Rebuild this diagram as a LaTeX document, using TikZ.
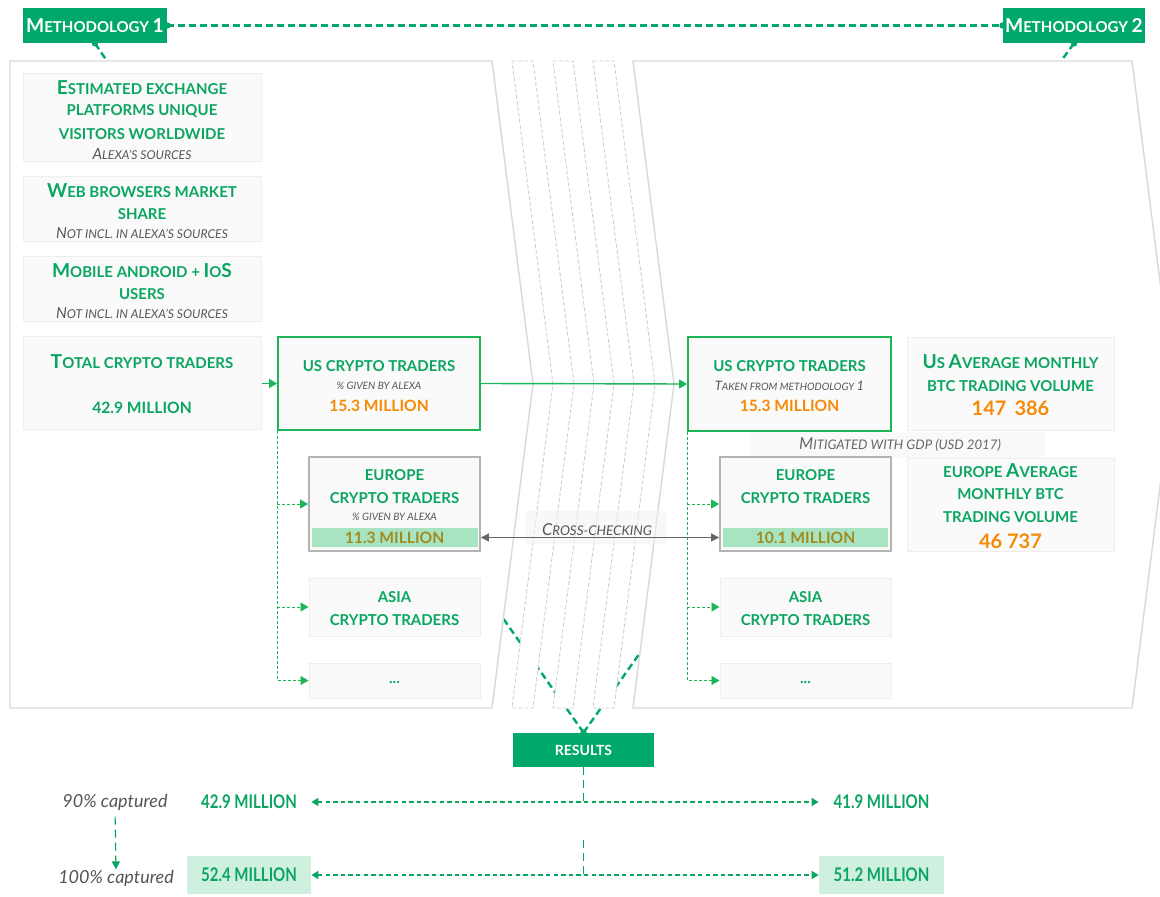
\documentclass[tikz,border=0pt]{standalone}
\usepackage{fontspec}
\setmainfont{Lato}
\usetikzlibrary{arrows.meta,fit,backgrounds}
\definecolor{mgreen}{HTML}{00A86B}
\definecolor{tgreen}{HTML}{0AA561}
\definecolor{lgreen}{HTML}{1DB45A}
\definecolor{orng}{HTML}{F58A07}
\definecolor{olivec}{HTML}{A08C1E}
\definecolor{bandc}{HTML}{A8E3C2}
\definecolor{palec}{HTML}{CFF0DE}
\definecolor{boxfill}{HTML}{FAFAFA}
\definecolor{boxline}{HTML}{EEEEEE}
\definecolor{panelc}{HTML}{D9D9D9}
\definecolor{stripc}{HTML}{CFCFCF}
\definecolor{capgray}{HTML}{555555}
\definecolor{eugray}{HTML}{B4B4B4}
\definecolor{xgray}{HTML}{666666}
\newcommand{\Bg}[1]{{\fontsize{9.6}{11}\selectfont #1}}
\newcommand{\Cb}[1]{{\fontsize{6.5}{7}\selectfont #1}}
\newcommand{\Cc}[1]{{\fontsize{7.6}{8}\selectfont #1}}
\newcommand{\Mb}[1]{{\fontsize{8.2}{9}\selectfont #1}}
\begin{document}
\begin{tikzpicture}[x=0.5pt,y=-0.5pt,
  gbox/.style={fill=boxfill, draw=boxline, line width=0.5pt, inner sep=0pt},
  usbox/.style={fill=boxfill, draw=lgreen, line width=0.9pt, inner sep=0pt},
  eubox/.style={fill=boxfill, draw=eugray, line width=0.9pt, inner sep=0pt},
  bandbox/.style={fill=bandc, inner sep=0pt},
  gt/.style={inner sep=0pt, text=tgreen, font=\bfseries\fontsize{7.5}{9}\selectfont},
  capt/.style={inner sep=0pt, text=capgray, font=\itshape\fontsize{5.1}{6}\selectfont},
  captb/.style={inner sep=0pt, text=capgray, font=\itshape\fontsize{6.1}{7}\selectfont},
  onum/.style={inner sep=0pt, text=orng, font=\bfseries\fontsize{7.8}{9}\selectfont},
  bignum/.style={inner sep=0pt, text=orng, font=\bfseries\fontsize{10}{12}\selectfont},
  olnum/.style={inner sep=0pt, text=olivec, font=\bfseries\fontsize{7.8}{9}\selectfont},
  badge/.style={fill=mgreen, text=white, inner sep=0pt, font=\bfseries\fontsize{7.5}{9}\selectfont},
  panelst/.style={draw=panelc, fill=white, line width=0.7pt},
  stripst/.style={draw=stripc, fill=white, line width=0.45pt, dash pattern=on 2pt off 1pt},
  tdash/.style={draw=mgreen, line width=1.2pt, dash pattern=on 3.5pt off 2pt},
  garrow/.style={draw=lgreen, line width=0.7pt, -{Triangle[length=4pt,width=4.5pt]}},
  branch/.style={draw=lgreen, line width=0.45pt, dash pattern=on 1.5pt off 1pt, -{Triangle[length=4pt,width=4.5pt]}},
  xarrow/.style={draw=xgray, line width=0.6pt, {Triangle[length=4pt,width=4pt]}-{Triangle[length=4pt,width=4pt]}},
  harrow/.style={draw=tgreen, line width=0.8pt, dash pattern=on 2.2pt off 1.6pt, {Triangle[length=3.5pt,width=4pt]}-{Triangle[length=3.5pt,width=4pt]}},
  vdash/.style={draw=tgreen, line width=0.6pt, dash pattern=on 4pt off 2.5pt},
  bnum/.style={inner sep=0pt, text=tgreen, font=\bfseries\fontsize{9.4}{10}\selectfont\addfontfeature{FakeStretch=0.8}},
  lowcap/.style={inner sep=0pt, text=capgray, font=\itshape\fontsize{9}{10}\selectfont},
]
\useasboundingbox (0,0) rectangle (1160,897);
\begin{scope}[on background layer]
\fill[white] (0,0) rectangle (1160,897);
\end{scope}

% panels and strips
\draw[panelst] (10,61) -- (492,61) -- (533,384) -- (492,708) -- (10,708) -- cycle;
\draw[stripst] (512,61) -- (533,61) -- (574,384) -- (533,708) -- (512,708) -- (553,384) -- cycle;
\draw[stripst] (553,61) -- (573,61) -- (614,384) -- (573,708) -- (553,708) -- (594,384) -- cycle;
\draw[stripst] (593,61) -- (614,61) -- (655,384) -- (614,708) -- (593,708) -- (634,384) -- cycle;
\draw[panelst] (633,61) -- (1132,61) -- (1173,384) -- (1132,708) -- (633,708) -- (674,384) -- cycle;

% badges
\node[badge, minimum width=72pt, minimum height=17.5pt] (m1) at (95,25.5) {\Bg{M}ETHODOLOGY \Bg{1}};
\node[badge, minimum width=71pt, minimum height=17.5pt] (m2) at (1074,25.5) {\Bg{M}ETHODOLOGY \Bg{2}};
\coordinate (p1) at (107,61);
\coordinate (p2) at (1061,61);
\draw[tdash] (m1.east) -- (m2.west);
\draw[tdash] (m1.south) -- (p1);
\draw[tdash] (m2.south) -- (p2);
\fill[mgreen] (m1.east) circle (1.6pt);
\fill[mgreen] (m2.west) circle (1.6pt);
\fill[mgreen] (m1.south) circle (1.6pt);
\fill[mgreen] (m2.south) circle (1.6pt);

% left column boxes
\node[gbox, fit={(23,74)(261,162)}] (b1) {};
\node[gt] (b1a) at (142,88) {\Bg{E}STIMATED EXCHANGE};
\node[gt] (b1b) at (142,111) {PLATFORMS UNIQUE};
\node[gt] (b1c) at (142,134) {VISITORS WORLDWIDE};
\node[captb] (b1d) at (142,154) {\Cc{A}LEXA'S SOURCES};

\node[gbox, fit={(23,177)(261,242)}] (b2) {};
\node[gt] (b2a) at (142,191) {\Bg{W}EB BROWSERS MARKET};
\node[gt] (b2b) at (142,214) {SHARE};
\node[captb] (b2c) at (142,233) {\Cc{N}OT INCL. IN ALEXA'S SOURCES};

\node[gbox, fit={(23,257)(261,322)}] (b3) {};
\node[gt] (b3a) at (142,271) {\Bg{M}OBILE ANDROID + \Bg{I}O\Bg{S}};
\node[gt] (b3b) at (142,294) {USERS};
\node[captb] (b3c) at (142,313) {\Cc{N}OT INCL. IN ALEXA'S SOURCES};

\node[gbox, fit={(23,337)(261,430)}] (tot) {};
\node[gt] (tota) at (142,362) {\Bg{T}OTAL CRYPTO TRADERS};
\node[gt, font=\bfseries\fontsize{7.8}{9}\selectfont] (totb) at (142,408) {42.9 MILLION};

% US left
\node[usbox, fit={(278,337)(480,430)}] (usl) {};
\node[gt] (usla) at (379,366) {US CRYPTO TRADERS};
\node[capt] (uslb) at (379,386) {\% GIVEN BY ALEXA};
\node[onum] (uslc) at (379,406) {15.3 MILLION};

% Europe left
\node[eubox, fit={(309,457)(480,551)}] (eul) {};
\node[gt] (eula) at (394.5,475) {EUROPE};
\node[gt] (eulb) at (394.5,498) {CRYPTO TRADERS};
\node[capt] (eulc) at (394.5,517) {\% GIVEN BY ALEXA};
\node[bandbox, fit={(312,528)(478,547)}] (bandl) {};
\node[olnum] (euld) at (394.5,537.5) {11.3 MILLION};

% Asia left
\node[gbox, fit={(309,578)(480,636)}] (asl) {};
\node[gt] (asla) at (394.5,597) {ASIA};
\node[gt] (aslb) at (394.5,620) {CRYPTO TRADERS};

\node[gbox, fit={(309,663)(480,698)}] (dl) {};
\node[gt] (dlt) at (394.5,682) {...};

% US right
\node[usbox, fit={(688,337)(891,431)}] (usr) {};
\node[gt] (usra) at (789.5,366) {US CRYPTO TRADERS};
\node[capt] (usrb) at (789.5,386) {\Cb{T}AKEN FROM METHODOLOGY \Cb{1}};
\node[onum] (usrc) at (789.5,406) {15.3 MILLION};

% US average
\node[gbox, fit={(907,338)(1114,431)}] (usavg) {};
\node[gt] (usavga) at (1010.5,362) {\Bg{U}S \Bg{A}VERAGE MONTHLY};
\node[gt] (usavgb) at (1010.5,386) {BTC TRADING VOLUME};
\node[bignum] (usavgc) at (1010.5,408) {147\hspace{4pt}386};

% mitigated
\node[fill=gray!5, inner sep=0pt, fit={(750,432)(1045,458)}] (mitbg) {};
\node[inner sep=0pt, text=xgray, font=\itshape\fontsize{6.6}{7}\selectfont] (mit) at (900,445) {\Mb{M}ITIGATED WITH GDP (USD 2017)};

% Europe right
\node[eubox, fit={(720,457)(891,551)}] (eur) {};
\node[gt] (eura) at (805.5,475) {EUROPE};
\node[gt] (eurb) at (805.5,498) {CRYPTO TRADERS};
\node[bandbox, fit={(723,528)(888,547)}] (bandr) {};
\node[olnum] (eurd) at (805.5,537.5) {10.1 MILLION};

% Europe average
\node[gbox, fit={(907,458)(1114,551)}] (euavg) {};
\node[gt] (euavga) at (1010.5,471) {EUROPE \Bg{A}VERAGE};
\node[gt] (euavgb) at (1010.5,494) {MONTHLY BTC};
\node[gt] (euavgc) at (1010.5,517) {TRADING VOLUME};
\node[bignum] (euavgd) at (1010.5,541) {46 737};

% Asia right
\node[gbox, fit={(720,578)(891,636)}] (asr) {};
\node[gt] (asra) at (805.5,597) {ASIA};
\node[gt] (asrb) at (805.5,620) {CRYPTO TRADERS};

\node[gbox, fit={(720,663)(891,698)}] (dr) {};
\node[gt] (drt) at (805.5,682) {...};

% connectors
\draw[garrow] (tot.east) -- (usl.west);
\draw[garrow] (usl.east) -- (usr.west);

\draw[branch] (usl.south west) -- (usl.south west |- dl.west) -- (dl.west);
\draw[branch] (usl.south west |- eul.west) -- (eul.west);
\draw[branch] (usl.south west |- asl.west) -- (asl.west);
\draw[branch] (usr.south west) -- (usr.south west |- dr.west) -- (dr.west);
\draw[branch] (usr.south west |- eur.west) -- (eur.west);
\draw[branch] (usr.south west |- asr.west) -- (asr.west);

% cross-checking
\node[fill=gray!10, fill opacity=0.5, inner sep=0pt, fit={(525,511)(667,544)}] (xbg) {};
\node[inner sep=0pt, text=capgray, font=\itshape\fontsize{6.7}{7}\selectfont] (xc) at (597,530) {\Mb{C}ROSS-CHECKING};
\draw[xarrow] (eul.east |- bandl.center) -- (eur.west |- bandr.center);

% results
\node[badge, minimum width=70.5pt, minimum height=17pt, font=\bfseries\fontsize{7}{8}\selectfont] (res) at (583.5,750) {RESULTS};
\coordinate (rl) at (500,614);
\coordinate (rr) at (652,636);
\begin{scope}[on background layer]
\draw[tdash] (res.north) -- (rl);
\draw[tdash] (res.north) -- (rr);
\end{scope}
\fill[mgreen] (res.north) circle (1.6pt);

% bottom results
\coordinate (j1) at (583.5,802);
\draw[vdash] (res.south) -- (j1);
\node[bnum, minimum width=62pt] (n429) at (249,802) {42.9 MILLION};
\node[bnum, minimum width=62.5pt] (n419) at (881.5,802) {41.9 MILLION};
\draw[harrow] (n429.east) -- (n419.west);

\coordinate (j2t) at (583.5,840);
\coordinate (j2) at (583.5,876);
\draw[vdash] (j2t) -- (j2);
\node[bnum, fill=palec, minimum width=62pt, minimum height=19pt] (n524) at (249,875) {52.4 MILLION};
\node[bnum, fill=palec, minimum width=62.5pt, minimum height=19pt] (n512) at (881.5,875) {51.2 MILLION};
\draw[harrow] (n524.east) -- (n512.west);

\node[lowcap] (c90) at (115,802) {90\% captured};
\node[lowcap] (c100) at (116,878) {100\% captured};
\draw[vdash, shorten <=3pt, -{Triangle[length=4pt,width=4pt]}] (c90.south) -- (c100.north);
\end{tikzpicture}
\end{document}
